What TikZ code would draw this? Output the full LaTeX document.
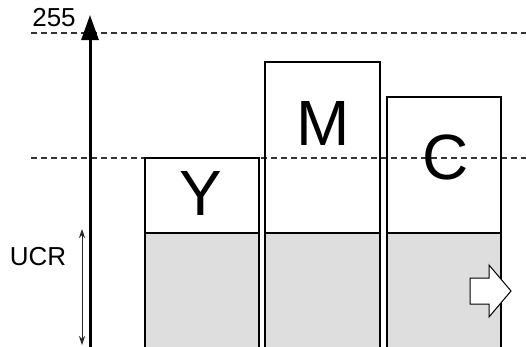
\documentclass[tikz,border=0pt]{standalone}
\usepackage{fontspec}
\setmainfont{Liberation Sans}
\usetikzlibrary{arrows.meta}
\begin{document}
\begin{tikzpicture}[x=1pt,y=-1pt,
  bar/.style={draw=black,line width=2pt},
  ucrfill/.style={fill=black!13},
  guide/.style={draw=black!80,line width=1.2pt,dash pattern=on 6pt off 4pt},
  letter/.style={font=\fontsize{64}{64}\selectfont,inner sep=0pt},
  txtlabel/.style={font=\fontsize{26}{26}\selectfont,inner sep=0pt},
  axis/.style={line width=3pt,-{Triangle[length=25pt,width=17pt]}},
  span/.style={line width=0.9pt,black!85,{Stealth[length=9pt,width=6pt]}-{Stealth[length=9pt,width=6pt]}},
  hollow/.style={draw=black,line width=1pt,fill=white}]
\useasboundingbox (0,0) rectangle (526,346);
\clip (0,0) rectangle (526,346);
\fill[white] (145,158) rectangle (259,233);
\fill[white] (265,62) rectangle (380,233);
\fill[white] (387,97) rectangle (501,233);
\fill[ucrfill] (145,233) rectangle (259,352);
\fill[ucrfill] (265,233) rectangle (380,352);
\fill[ucrfill] (387,233) rectangle (501,352);
\coordinate (g1a) at (31,33);  \coordinate (g1b) at (526,33);
\coordinate (g2a) at (31,158); \coordinate (g2b) at (526,158);
\draw[guide] (g1a) -- (g1b);
\draw[guide] (g2a) -- (g2b);
\draw[bar] (145,352) -- (145,158) -- (259,158) -- (259,352);
\draw[bar] (145,233) -- (259,233);
\draw[bar] (265,352) -- (265,62) -- (380,62) -- (380,352);
\draw[bar] (265,233) -- (380,233);
\draw[bar] (387,352) -- (387,97) -- (501,97) -- (501,352);
\draw[bar] (387,233) -- (501,233);
\node[letter] (Y) at (201,193) {Y};
\node[letter] (M) at (323,123) {M};
\node[letter] (C) at (446,157) {C};
\coordinate (ax0) at (90,350);
\coordinate (ax1) at (90,15);
\draw[axis] (ax0) -- (ax1);
\node[txtlabel] (top) at (54,18) {255};
\node[txtlabel] (ucr) at (38,257) {UCR};
\coordinate (u0) at (82,229);
\coordinate (u1) at (82,345);
\draw[span] (u0) -- (u1);
\draw[hollow] (470,278) -- (489,278) -- (489,265) -- (511,291) -- (489,317) -- (489,304) -- (470,304) -- cycle;
\end{tikzpicture}
\end{document}
